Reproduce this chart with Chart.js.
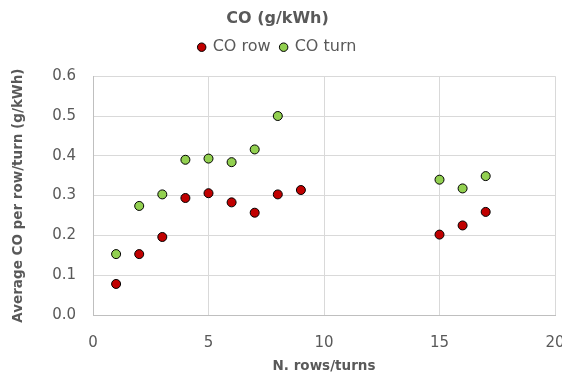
<!DOCTYPE html>
<html>
<head>
<meta charset="utf-8">
<script src="https://cdn.jsdelivr.net/npm/chart.js@4/dist/chart.umd.min.js"></script>
<style>
  html, body { margin: 0; padding: 0; background: #fff; overflow: hidden; }
  #wrap { width: 562px; height: 381px; }
</style>
</head>
<body>
<div id="wrap"><canvas id="c" width="562" height="381"></canvas></div>
<script>
// Number of rows / turns
const rowX = [1, 2, 3, 4, 5, 6, 7, 8, 9, 15, 16, 17];
const turnX = [1, 2, 3, 4, 5, 6, 7, 8, 15, 16, 17];
// Average CO per row / turn (g/kWh)
const coRow = [0.078, 0.153, 0.196, 0.294, 0.306, 0.283, 0.257, 0.303, 0.314, 0.202, 0.225, 0.259];
const coTurn = [0.153, 0.274, 0.303, 0.390, 0.393, 0.384, 0.416, 0.500, 0.340, 0.318, 0.349];

const seriesNames = ['CO row', 'CO turn'];
const chartTitle = 'CO (g/kWh)';
const xTitle = 'N. rows/turns';
const yTitle = 'Average CO per row/turn (g/kWh)';

const toPoints = (xs, ys) => xs.map((x, i) => ({ x: x, y: ys[i] }));

const FONT = "'DejaVu Sans', sans-serif";
const GREY = '#595959';

new Chart(document.getElementById('c'), {
  type: 'scatter',
  data: {
    datasets: [
      {
        label: seriesNames[0],
        data: toPoints(rowX, coRow),
        backgroundColor: '#C00000',
        borderColor: '#000000',
        borderWidth: 1,
        pointRadius: 4.5,
        pointHoverRadius: 4.5
      },
      {
        label: seriesNames[1],
        data: toPoints(turnX, coTurn),
        backgroundColor: '#92D050',
        borderColor: '#000000',
        borderWidth: 1,
        pointRadius: 4.5,
        pointHoverRadius: 4.5
      }
    ]
  },
  options: {
    responsive: false,
    animation: false,
    layout: { padding: { left: 0, right: 7, top: 9, bottom: 0 } },
    plugins: {
      title: {
        display: true,
        text: chartTitle,
        color: GREY,
        font: { family: FONT, size: 16, weight: 'bold' },
        padding: { top: 0, bottom: 1 }
      },
      // thin empty spacer between the legend and the plot
      subtitle: {
        display: true,
        text: '',
        weight: 500,
        font: { size: 10, lineHeight: 1 },
        padding: { top: 0, bottom: 1 }
      },
      legend: {
        display: true,
        position: 'top',
        labels: {
          usePointStyle: true,
          pointStyle: 'circle',
          boxWidth: 6,
          boxHeight: 6,
          padding: 10,
          color: GREY,
          font: { family: FONT, size: 16 }
        }
      },
      tooltip: { enabled: false }
    },
    scales: {
      x: {
        type: 'linear',
        min: 0,
        max: 20,
        ticks: {
          stepSize: 5,
          color: GREY,
          padding: 19,
          font: { family: FONT, size: 15 }
        },
        grid: { color: '#D9D9D9', drawTicks: false },
        border: { color: '#BFBFBF' },
        title: {
          display: true,
          text: xTitle,
          color: GREY,
          font: { family: FONT, size: 13.5, weight: 'bold' },
          padding: { top: 2, bottom: 6 }
        },
        afterFit: (s) => { s.height = 66; s.paddingRight = 0; }
      },
      y: {
        type: 'linear',
        min: 0,
        max: 0.6,
        ticks: {
          stepSize: 0.1,
          color: GREY,
          padding: 17,
          font: { family: FONT, size: 15 },
          callback: (v) => Number(v).toFixed(1)
        },
        grid: { color: '#D9D9D9', drawTicks: false },
        border: { color: '#BFBFBF' },
        title: {
          display: true,
          text: yTitle,
          color: GREY,
          font: { family: FONT, size: 13.5, weight: 'bold' },
          padding: { top: 10, bottom: 2 }
        },
        afterFit: (s) => { s.width = 93; }
      }
    }
  }
});
</script>
</body>
</html>
